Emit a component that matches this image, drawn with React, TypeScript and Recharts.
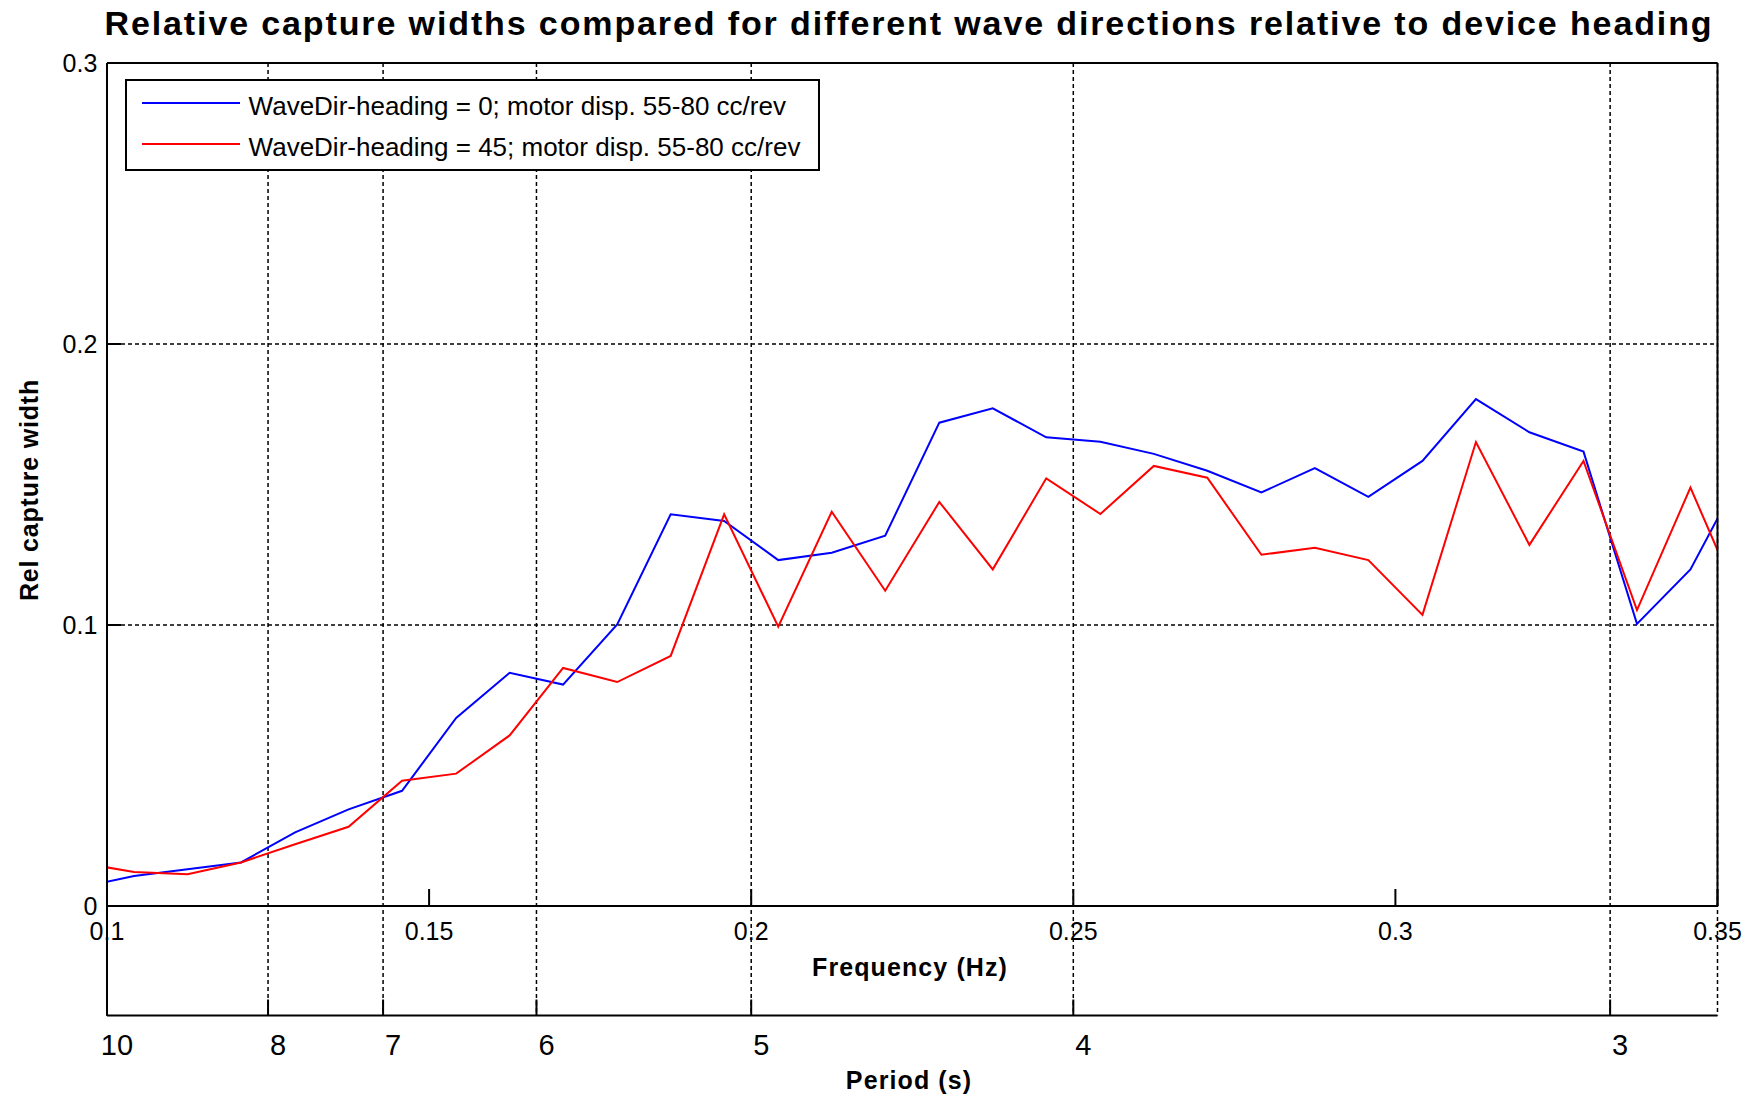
import React from 'react';
import { LineChart, Line, XAxis, YAxis, CartesianGrid } from 'recharts';

// ---- Data ----
const frequencies = [
  0.0958, 0.1042, 0.1125, 0.1208, 0.1292, 0.1375, 0.1458, 0.1542, 0.1625, 0.1708, 0.1792,
  0.1875, 0.1958, 0.2042, 0.2125, 0.2208, 0.2292, 0.2375, 0.2458, 0.2542, 0.2625, 0.2708,
  0.2792, 0.2875, 0.2958, 0.3042, 0.3125, 0.3208, 0.3292, 0.3375, 0.3458, 0.3542,
];
const heading0 = [
  0.0066, 0.0107, 0.0131, 0.0155, 0.0262, 0.0344, 0.041, 0.0669, 0.083, 0.0788, 0.1002,
  0.1394, 0.137, 0.1231, 0.1257, 0.1318, 0.172, 0.1771, 0.1668, 0.1652, 0.1609, 0.1549,
  0.1472, 0.1558, 0.1456, 0.1584, 0.1804, 0.1686, 0.1617, 0.1004, 0.1198, 0.156,
];
const heading45 = [
  0.0154, 0.0121, 0.0113, 0.0155, 0.022, 0.0282, 0.0446, 0.0471, 0.0607, 0.0847, 0.0797,
  0.089, 0.1394, 0.0994, 0.1403, 0.1122, 0.1438, 0.1198, 0.1522, 0.1395, 0.1566, 0.1524,
  0.125, 0.1275, 0.1231, 0.1036, 0.1651, 0.1285, 0.1584, 0.1053, 0.1489, 0.1045,
];
const freqTicks = [0.1, 0.15, 0.2, 0.25, 0.3, 0.35];
const periodTicks = [10, 8, 7, 6, 5, 4, 3];
const yTicks = [0, 0.1, 0.2, 0.3];
const seriesNames = [
  'WaveDir-heading = 0; motor disp. 55-80 cc/rev',
  'WaveDir-heading = 45; motor disp. 55-80 cc/rev',
];
const seriesColors = ['#0000ff', '#ff0000'];

const data = frequencies.map((f, i) => ({ f, h0: heading0[i], h45: heading45[i] }));
const periodTickFreqs = periodTicks.map((t) => 1 / t);

// ---- Layout ----
const W = 1749;
const H = 1097;
const FONT = '"Liberation Sans", Arial, Helvetica, sans-serif';
const PLOT_LEFT = 107;
const PLOT_RIGHT = 1717.5;
const PLOT_TOP = 63;
const FREQ_BOTTOM = 906;
const PERIOD_BOTTOM = 1015.5;

const axisLine = { stroke: '#000', strokeWidth: 2 };
const tickLine = { stroke: '#000', strokeWidth: 2 };
const gridDash = '4 3';

const abs: React.CSSProperties = { position: 'absolute', left: 0, top: 0 };

function TextAt(props: {
  x: number;
  y: number;
  size: number;
  bold?: boolean;
  spacing?: number;
  rotate?: boolean;
  children: React.ReactNode;
}) {
  const { x, y, size, bold, spacing, rotate, children } = props;
  return (
    <div
      style={{
        position: 'absolute',
        left: x,
        top: y,
        fontFamily: FONT,
        fontSize: size,
        fontWeight: bold ? 700 : 400,
        letterSpacing: spacing ? `${spacing}px` : undefined,
        lineHeight: 1,
        whiteSpace: 'nowrap',
        color: '#000',
        transform: rotate ? 'translate(-50%, -50%) rotate(-90deg)' : 'translate(-50%, -50%)',
      }}
    >
      {children}
    </div>
  );
}

export default function App() {
  return (
    <div style={{ position: 'absolute', left: 0, top: 0, width: W, height: H, background: '#fff', overflow: 'hidden' }}>
      {/* Period axis + vertical grid (from period ticks) */}
      <div style={abs}>
        <LineChart
          width={W}
          height={H}
          data={data}
          margin={{ top: PLOT_TOP, left: PLOT_LEFT - 20, right: W - PLOT_RIGHT, bottom: H - PERIOD_BOTTOM - 60 }}
        >
          <CartesianGrid
            xAxisId="p"
            yAxisId="pl"
            horizontal={false}
            stroke="#000"
            strokeWidth={1.5}
            strokeDasharray={gridDash}
          />
          <XAxis
            xAxisId="p"
            dataKey="f"
            type="number"
            domain={[0.1, 0.35]}
            allowDataOverflow
            ticks={periodTickFreqs}
            interval={0}
            tickFormatter={(v: number) => String(Math.round(1 / v))}
            height={60}
            tickSize={-16}
            tickMargin={34.6}
            axisLine={axisLine}
            tickLine={tickLine}
            tick={{ fill: '#000', fontSize: 29, fontFamily: FONT, dx: 10 }}
          />
          <YAxis
            yAxisId="pl"
            type="number"
            domain={[0, 1]}
            ticks={[0, 1]}
            width={20}
            tick={false}
            tickLine={false}
            axisLine={axisLine}
          />
        </LineChart>
      </div>

      {/* Main frequency plot */}
      <div style={abs}>
        <LineChart
          width={W}
          height={H}
          data={data}
          margin={{ top: PLOT_TOP - 10, left: PLOT_LEFT - 60, right: W - PLOT_RIGHT - 10, bottom: H - FREQ_BOTTOM - 50 }}
        >
          <CartesianGrid
            xAxisId="f"
            yAxisId="l"
            vertical={false}
            stroke="#000"
            strokeWidth={1.5}
            strokeDasharray={gridDash}
          />
          <XAxis
            xAxisId="f"
            dataKey="f"
            type="number"
            domain={[0.1, 0.35]}
            allowDataOverflow
            ticks={freqTicks}
            interval={0}
            height={50}
            tickSize={-17}
            tickMargin={33}
            axisLine={axisLine}
            tickLine={tickLine}
            tick={{ fill: '#000', fontSize: 25, fontFamily: FONT }}
          />
          <XAxis
            xAxisId="ft"
            orientation="top"
            type="number"
            domain={[0.1, 0.35]}
            allowDataOverflow
            ticks={freqTicks}
            interval={0}
            height={10}
            tickSize={-17}
            tick={false}
            axisLine={axisLine}
            tickLine={tickLine}
          />
          <YAxis
            yAxisId="l"
            type="number"
            domain={[0, 0.3]}
            allowDataOverflow
            ticks={yTicks}
            interval={0}
            width={60}
            tickSize={-14}
            tickMargin={23.7}
            axisLine={axisLine}
            tickLine={tickLine}
            tick={{ fill: '#000', fontSize: 25, fontFamily: FONT }}
          />
          <YAxis
            yAxisId="r"
            orientation="right"
            type="number"
            domain={[0, 0.3]}
            allowDataOverflow
            ticks={yTicks}
            interval={0}
            width={10}
            tickSize={-14}
            tick={false}
            axisLine={axisLine}
            tickLine={tickLine}
          />
          <Line
            xAxisId="f"
            yAxisId="l"
            type="linear"
            dataKey="h0"
            name={seriesNames[0]}
            stroke={seriesColors[0]}
            strokeWidth={2}
            dot={false}
            isAnimationActive={false}
          />
          <Line
            xAxisId="f"
            yAxisId="l"
            type="linear"
            dataKey="h45"
            name={seriesNames[1]}
            stroke={seriesColors[1]}
            strokeWidth={2}
            dot={false}
            isAnimationActive={false}
          />
        </LineChart>
      </div>

      {/* Legend */}
      <div
        style={{
          position: 'absolute',
          left: 124.6,
          top: 79.3,
          width: 695.4,
          height: 91.4,
          border: '2px solid #000',
          boxSizing: 'border-box',
          background: '#fff',
        }}
      />
      {seriesNames.map((name, i) => (
        <React.Fragment key={name}>
          <div
            style={{
              position: 'absolute',
              left: 142,
              top: (i === 0 ? 102.7 : 144) - 1,
              width: 98,
              height: 2,
              background: seriesColors[i],
            }}
          />
          <div
            style={{
              position: 'absolute',
              left: 248.6,
              top: (i === 0 ? 105.5 : 146.5) - 0.4885 * 26,
              fontFamily: FONT,
              fontSize: 26,
              lineHeight: 1,
              whiteSpace: 'nowrap',
              color: '#000',
            }}
          >
            {name}
          </div>
        </React.Fragment>
      ))}

      {/* Titles */}
      <TextAt x={909} y={23.3} size={34} bold spacing={1.88}>
        Relative capture widths compared for different wave directions relative to device heading
      </TextAt>
      <TextAt x={910} y={967} size={25} bold spacing={1.1}>
        Frequency (Hz)
      </TextAt>
      <TextAt x={909} y={1080} size={25} bold spacing={1.1}>
        Period (s)
      </TextAt>
      <TextAt x={29} y={489.6} size={25} bold spacing={0.8} rotate>
        Rel capture width
      </TextAt>
    </div>
  );
}
